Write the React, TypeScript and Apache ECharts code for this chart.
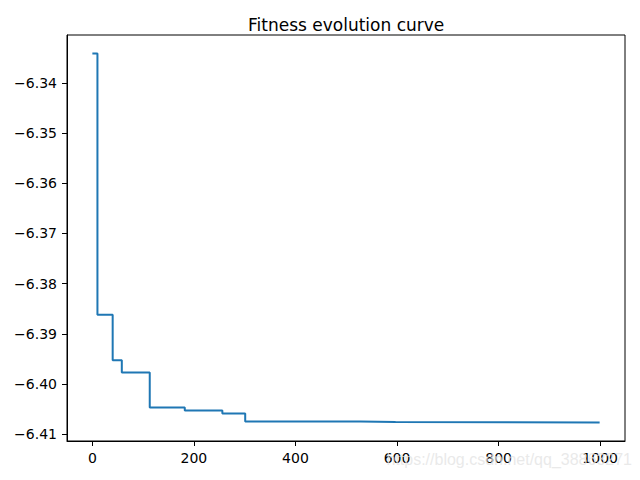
import React, { useEffect, useRef } from "react";
import * as echarts from "echarts";

const iterations = [0, 10, 40, 58, 113, 182, 256, 301, 528, 597, 999];
const fitness = [-6.3341, -6.3862, -6.3953, -6.3977, -6.4047, -6.4053, -6.4059, -6.4075, -6.4076, -6.4077, -6.4077];
const xTicks = [0, 200, 400, 600, 800, 1000];
const yTicks = [-6.41, -6.4, -6.39, -6.38, -6.37, -6.36, -6.35, -6.34];
const titleText = "Fitness evolution curve";
const watermark = "https://blog.csdn.net/qq_38863271";

export default function App() {
  const ref = useRef<HTMLDivElement>(null);
  useEffect(() => {
    if (!ref.current) return;
    const chart = echarts.init(ref.current, null, { renderer: "svg" });
    const xMin = Math.min(...iterations);
    const xMax = Math.max(...iterations);
    const yMin = Math.min(...fitness);
    const yMax = Math.max(...fitness);
    const xPad = (xMax - xMin) * 0.05;
    const yPad = (yMax - yMin) * 0.05;
    const font = "DejaVu Sans";
    chart.setOption({
      animation: false,
      backgroundColor: "#ffffff",
      title: {
        text: titleText,
        left: 243,
        top: 11,
        textStyle: { fontFamily: font, fontSize: 17, fontWeight: "normal", color: "#000" },
      },
      grid: {
        left: 67,
        top: 35,
        right: 15,
        bottom: 39,
        show: true,
        borderColor: "#000",
        borderWidth: 1,
        backgroundColor: "transparent",
      },
      xAxis: {
        type: "value",
        min: xMin - xPad,
        max: xMax + xPad,
        axisLine: { show: true, onZero: false, lineStyle: { color: "#000", width: 1 } },
        axisTick: { show: true, length: 5, customValues: xTicks, lineStyle: { color: "#000" } },
        axisLabel: {
          customValues: xTicks,
          margin: 10,
          fontFamily: font,
          fontSize: 14,
          color: "#000",
          formatter: (v: number) => String(v),
        },
        splitLine: { show: false },
      },
      yAxis: {
        type: "value",
        min: yMin - yPad,
        max: yMax + yPad,
        axisLine: { show: true, onZero: false, lineStyle: { color: "#000", width: 1 } },
        axisTick: { show: true, length: 5, customValues: yTicks, lineStyle: { color: "#000" } },
        axisLabel: {
          customValues: yTicks,
          margin: 10,
          fontFamily: font,
          fontSize: 14,
          color: "#000",
          formatter: (v: number) => (v < 0 ? "\u2212" : "") + Math.abs(v).toFixed(2),
        },
        splitLine: { show: false },
      },
      graphic: [
        {
          type: "text",
          right: 8,
          top: 451,
          z: 100,
          style: {
            text: watermark,
            fontFamily: "Liberation Sans",
            fontSize: 16,
            fill: "rgba(228,228,228,0.8)",
          },
        },
      ],
      series: [
        {
          type: "line",
          step: "end",
          showSymbol: false,
          symbol: "none",
          data: iterations.map((x, i) => [x, fitness[i]]),
          lineStyle: { color: "#1f77b4", width: 2 },
        },
      ],
    });
    return () => chart.dispose();
  }, []);
  return (
    <div
      ref={ref}
      style={{ position: "fixed", left: 0, top: 0, width: 640, height: 480 }}
    />
  );
}
